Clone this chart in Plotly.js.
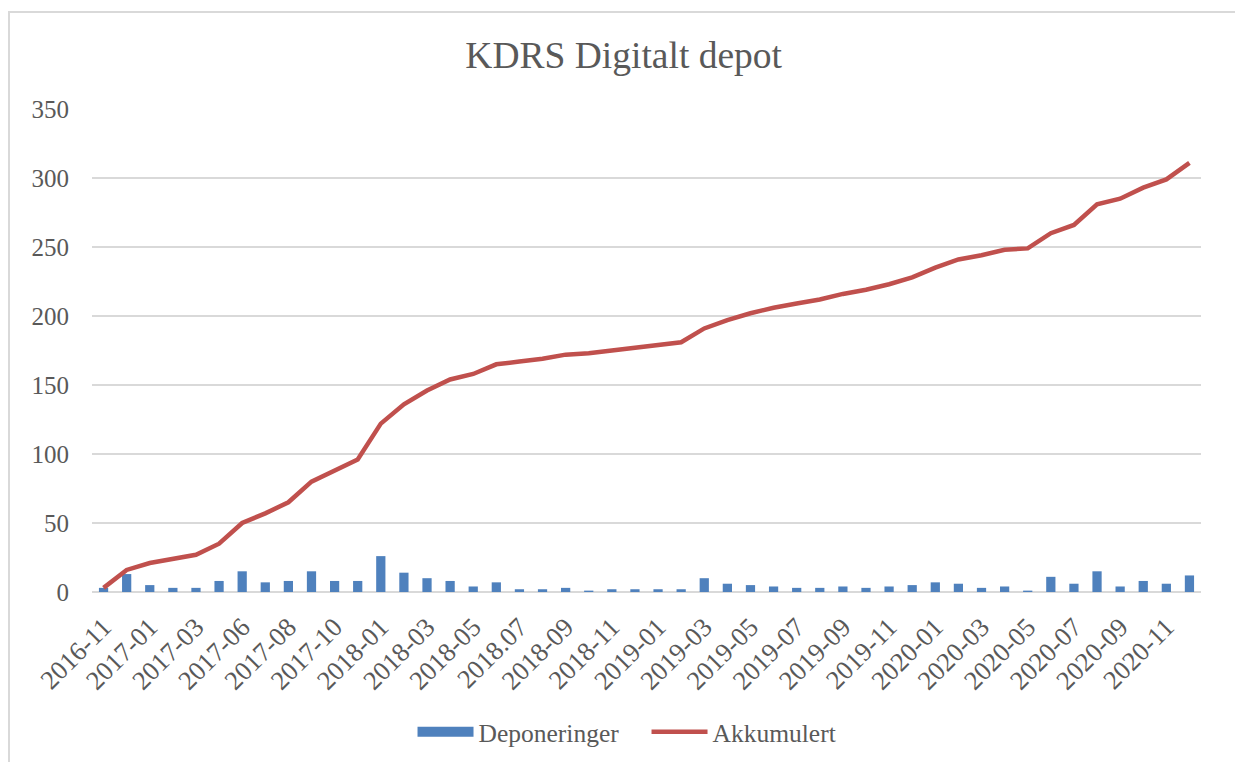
<!DOCTYPE html>
<html>
<head>
<meta charset="utf-8">
<script src="https://cdn.plot.ly/plotly-3.0.1.min.js"></script>
<style>
  html, body { margin: 0; padding: 0; background: #ffffff; overflow: hidden; }
  #frame { position: absolute; left: 8px; top: 11px; width: 1240px; height: 760px;
           border: 2px solid #d9d9d9; box-sizing: border-box; }
  #chart { position: absolute; left: 0; top: 0; width: 1235px; height: 762px; }
</style>
</head>
<body>
<div id="frame"></div>
<div id="chart"></div>
<script>
const months = [
  '2016-11','2016-12','2017-01','2017-02','2017-03','2017-04','2017-06','2017-07',
  '2017-08','2017-09','2017-10','2017-11','2018-01','2018-02','2018-03','2018-04',
  '2018-05','2018-06','2018.07','2018-08','2018-09','2018-10','2018-11','2018-12',
  '2019-01','2019-02','2019-03','2019-04','2019-05','2019-06','2019-07','2019-08',
  '2019-09','2019-10','2019-11','2019-12','2020-01','2020-02','2020-03','2020-04',
  '2020-05','2020-06','2020-07','2020-08','2020-09','2020-10','2020-11','2020-12'
];
const deponeringer = [
  3, 13, 5, 3, 3, 8, 15, 7,
  8, 15, 8, 8, 26, 14, 10, 8,
  4, 7, 2, 2, 3, 1, 2, 2,
  2, 2, 10, 6, 5, 4, 3, 3,
  4, 3, 4, 5, 7, 6, 3, 4,
  1, 11, 6, 15, 4, 8, 6, 12
];
const akkumulert = [
  3, 16, 21, 24, 27, 35, 50, 57,
  65, 80, 88, 96, 122, 136, 146, 154,
  158, 165, 167, 169, 172, 173, 175, 177,
  179, 181, 191, 197, 202, 206, 209, 212,
  216, 219, 223, 228, 235, 241, 244, 248,
  249, 260, 266, 281, 285, 293, 299, 311
];
const tickLabels = months.filter((m, i) => i % 2 === 0);
const yTicks = [0, 50, 100, 150, 200, 250, 300, 350];

const FONT = '"Liberation Serif", "DejaVu Serif", serif';
const GREY = '#595959';
const BLUE = '#4f81bd';
const RED = '#c0504d';

const traces = [
  {
    type: 'bar', name: 'Deponeringer', x: months, y: deponeringer,
    marker: { color: BLUE }, showlegend: false, legendgroup: 'dep'
  },
  {
    // legend-only entry giving the wide rectangular swatch of the reference
    type: 'scatter', mode: 'lines', name: 'Deponeringer', x: [null], y: [null],
    line: { color: BLUE, width: 13 }, legendgroup: 'dep', hoverinfo: 'skip'
  },
  {
    type: 'scatter', mode: 'lines', name: 'Akkumulert', x: months, y: akkumulert,
    line: { color: RED, width: 4.5, shape: 'linear' }
  }
];

const layout = {
  width: 1235, height: 762,
  paper_bgcolor: 'rgba(0,0,0,0)', plot_bgcolor: 'rgba(0,0,0,0)',
  margin: { l: 92, r: 34, t: 109, b: 170, autoexpand: false },
  font: { family: FONT, color: GREY, size: 25 },
  title: {
    text: 'KDRS Digitalt depot',
    font: { family: FONT, size: 37.5, color: GREY },
    xref: 'container', x: 0.505, xanchor: 'center',
    yref: 'container', y: 0.928, yanchor: 'middle'
  },
  bargap: 0.6,
  showlegend: true,
  legend: {
    orientation: 'h', xref: 'container', x: 0.5235, xanchor: 'center',
    y: -0.29, yanchor: 'middle',
    font: { family: FONT, size: 25.5, color: GREY },
    itemwidth: 56, traceorder: 'normal', tracegroupgap: 0,
    entrywidth: 163, entrywidthmode: 'pixels'
  },
  xaxis: {
    type: 'category', automargin: false,
    tickmode: 'array', tickvals: tickLabels, ticktext: tickLabels,
    tickangle: -45,
    tickfont: { family: FONT, size: 26.5, color: GREY },
    showgrid: false, showline: false, zeroline: false,
    ticks: 'outside', ticklen: 8, tickcolor: 'rgba(0,0,0,0)',
    fixedrange: true
  },
  yaxis: {
    range: [0, 350], tickmode: 'array', tickvals: yTicks, automargin: false,
    tickfont: { family: FONT, size: 25, color: GREY },
    showgrid: true, gridcolor: '#d9d9d9', gridwidth: 1.5,
    zeroline: true, zerolinecolor: '#d9d9d9', zerolinewidth: 2,
    showline: false, ticks: '', ticklabelstandoff: 22,
    fixedrange: true
  }
};

Plotly.newPlot('chart', traces, layout, { displayModeBar: false, staticPlot: true });
</script>
</body>
</html>
